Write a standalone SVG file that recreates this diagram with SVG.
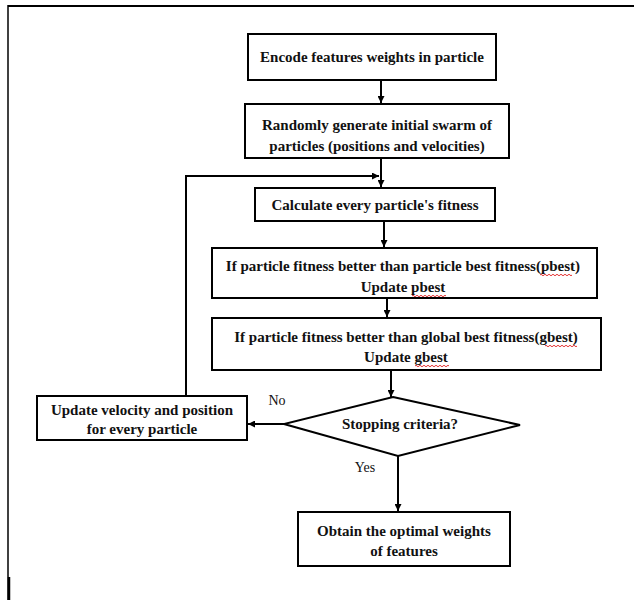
<svg xmlns="http://www.w3.org/2000/svg" width="634" height="600" viewBox="0 0 634 600">
<defs>
<marker id="ah" viewBox="0 0 10 10" refX="10" refY="5" markerWidth="7" markerHeight="7" markerUnits="userSpaceOnUse" orient="auto">
<path d="M0,0 L10,5 L0,10 z" fill="#000"/>
</marker>
<style>
.box{fill:#fff;stroke:#000;stroke-width:2}
.t{font-family:"Liberation Serif","Times New Roman",serif;font-weight:bold;font-size:15px;fill:#111;text-anchor:middle}
.l{font-family:"Liberation Serif","Times New Roman",serif;font-size:14px;fill:#111;text-anchor:middle}
.c{fill:none;stroke:#000;stroke-width:2}
.sq{fill:none;stroke:#d00;stroke-width:0.8}
</style>
</defs>
<rect width="634" height="600" fill="#fff"/>
<g id="frame">
<line x1="8" y1="6" x2="634" y2="6" stroke="#000" stroke-width="2"/>
<line x1="8" y1="5" x2="8" y2="600" stroke="#000" stroke-width="1.5"/>
<line x1="9" y1="577" x2="9" y2="600" stroke="#000" stroke-width="2.5"/>
</g>
<g id="connectors">
<path class="c" d="M381,80 V103" marker-end="url(#ah)"/>
<path class="c" d="M381,158 V187" marker-end="url(#ah)"/>
<path class="c" d="M186,396 V176 H379" marker-end="url(#ah)"/>
<path class="c" d="M384,221 V247" marker-end="url(#ah)"/>
<path class="c" d="M387,298 V317" marker-end="url(#ah)"/>
<path class="c" d="M391,370 V397" marker-end="url(#ah)"/>
<path class="c" d="M284,424 H248" marker-end="url(#ah)"/>
<path class="c" d="M398,456 V511" marker-end="url(#ah)"/>
<text class="l" x="277" y="405">No</text>
<text class="l" x="365" y="472">Yes</text>
</g>
<g id="n1">
<rect class="box" x="248" y="34" width="248" height="46"/>
<text class="t" x="372" y="62">Encode features weights in particle</text>
</g>
<g id="n2">
<rect class="box" x="245" y="104" width="264" height="54"/>
<text class="t" x="377" y="130">Randomly generate initial swarm of</text>
<text class="t" x="377" y="151">particles (positions and velocities)</text>
</g>
<g id="n3">
<rect class="box" x="255" y="188" width="240" height="33"/>
<text class="t" x="375" y="210">Calculate every particle's fitness</text>
</g>
<g id="n4">
<rect class="box" x="212" y="248" width="385" height="50"/>
<text class="t" x="403" y="271">If particle fitness better than particle best fitness(pbest)</text>
<text class="t" x="403" y="292">Update pbest</text>
<path class="sq" d="M540,275 q1,-1.5 2,0 t2,0 t2,0 t2,0 t2,0 t2,0 t2,0 t2,0 t2,0 t2,0 t2,0 t2,0 t2,0 t2,0 t2,0 t2,0"/>
<path class="sq" d="M412,296 q1,-1.5 2,0 t2,0 t2,0 t2,0 t2,0 t2,0 t2,0 t2,0 t2,0 t2,0 t2,0 t2,0 t2,0 t2,0 t2,0 t2,0 t2,0"/>
</g>
<g id="n5">
<rect class="box" x="212" y="318" width="389" height="52"/>
<text class="t" x="406" y="342">If particle fitness better than global best fitness(gbest)</text>
<text class="t" x="406" y="362">Update gbest</text>
<path class="sq" d="M545,346 q1,-1.5 2,0 t2,0 t2,0 t2,0 t2,0 t2,0 t2,0 t2,0 t2,0 t2,0 t2,0 t2,0 t2,0 t2,0 t2,0 t2,0"/>
<path class="sq" d="M415,366 q1,-1.5 2,0 t2,0 t2,0 t2,0 t2,0 t2,0 t2,0 t2,0 t2,0 t2,0 t2,0 t2,0 t2,0 t2,0 t2,0 t2,0 t2,0"/>
</g>
<g id="n6">
<polygon class="box" points="393,397 520,425 398,456 284,424"/>
<text class="t" x="400" y="429">Stopping criteria?</text>
</g>
<g id="n7">
<rect class="box" x="37" y="396" width="210" height="44"/>
<text class="t" x="142" y="415">Update velocity and position</text>
<text class="t" x="142" y="434">for every particle</text>
</g>
<g id="n8">
<rect class="box" x="298" y="512" width="212" height="54"/>
<text class="t" x="404" y="536">Obtain the optimal weights</text>
<text class="t" x="404" y="556">of features</text>
</g>
</svg>
